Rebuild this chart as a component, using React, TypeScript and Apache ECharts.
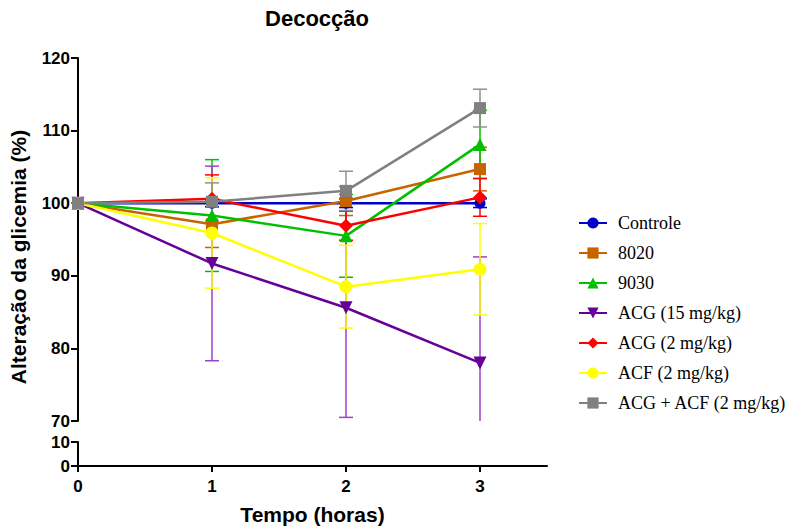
import React, { useEffect, useRef } from "react";
import * as echarts from "echarts";

const times = [0, 1, 2, 3];
const seriesNames = [
  "Controle",
  "8020",
  "9030",
  "ACG (15 mg/kg)",
  "ACG (2 mg/kg)",
  "ACF (2 mg/kg)",
  "ACG + ACF (2 mg/kg)",
];
const controleMean = [100, 100, 100, 100];
const controleSem = [0, 0.5, 0.6, 0.6];
const m8020Mean = [100, 97.1, 100.3, 104.7];
const m8020Sem = [0, 3.2, 2.0, 3.0];
const m9030Mean = [100, 98.3, 95.5, 108.1];
const m9030Sem = [0, 7.7, 5.7, 4.7];
const acg15Mean = [100, 91.7, 85.6, 78.0];
const acg15Sem = [0, 13.4, 15.1, 14.6];
const acg2Mean = [100, 100.6, 96.9, 100.8];
const acg2Sem = [0, 3.3, 2.0, 2.6];
const acfMean = [100, 95.9, 88.5, 90.9];
const acfSem = [0, 7.6, 5.7, 6.3];
const mixMean = [100, 100.2, 101.7, 113.1];
const mixSem = [0, 2.6, 2.7, 2.6];

const upperTicks = [70, 80, 90, 100, 110, 120];
const lowerTicks = [0, 10];
const xTicks = [0, 1, 2, 3];

const means = [controleMean, m8020Mean, m9030Mean, acg15Mean, acg2Mean, acfMean, mixMean];
const sems = [controleSem, m8020Sem, m9030Sem, acg15Sem, acg2Sem, acfSem, mixSem];
const lineColors = ["#0000c8", "#c86400", "#00c000", "#660099", "#ff0000", "#ffff00", "#808080"];
const errColors = ["#0000c8", "#c86400", "#00c000", "#a040c8", "#ff0000", "#ffff00", "#909090"];
const symbols = ["circle", "rect", "triangle", "triangle", "diamond", "circle", "rect"];
const symbolRot = [0, 0, 0, 180, 0, 0, 0];
const symbolSizes = [11, 12, 13, 13, 14, 13, 12];

const Y_MIN = 70;

export default function App() {
  const ref = useRef<HTMLDivElement>(null);
  useEffect(() => {
    document.body.style.margin = "0";
    const chart = echarts.init(ref.current!, null, { renderer: "svg" });
    const axisFont = { fontFamily: "Liberation Sans", fontWeight: "bold" as const, fontSize: 17, color: "#000" };
    const series: any[] = [];
    seriesNames.forEach((name, i) => {
      series.push({
        name: "err" + i,
        type: "custom",
        xAxisIndex: 0,
        yAxisIndex: 0,
        z: 1,
        silent: true,
        data: times.map((t, k) => [t, means[i][k], sems[i][k]]),
        renderItem: (params: any, api: any) => {
          const x = api.value(0);
          const m = api.value(1);
          const s = api.value(2);
          if (!s) return null;
          const hi = m + s;
          let lo = m - s;
          const clipped = lo < Y_MIN;
          if (clipped) lo = Y_MIN;
          const pHi = api.coord([x, hi]);
          const pLo = api.coord([x, lo]);
          const w = 7;
          const st = { stroke: errColors[i], lineWidth: 1.5 };
          const children: any[] = [
            { type: "line", shape: { x1: pHi[0], y1: pHi[1], x2: pLo[0], y2: pLo[1] }, style: st },
            { type: "line", shape: { x1: pHi[0] - w, y1: pHi[1], x2: pHi[0] + w, y2: pHi[1] }, style: st },
          ];
          if (!clipped) {
            children.push({ type: "line", shape: { x1: pLo[0] - w, y1: pLo[1], x2: pLo[0] + w, y2: pLo[1] }, style: st });
          }
          return { type: "group", children };
        },
      });
    });
    seriesNames.forEach((name, i) => {
      series.push({
        name,
        type: "line",
        xAxisIndex: 0,
        yAxisIndex: 0,
        z: 3,
        data: times.map((t, k) => [t, means[i][k]]),
        symbol: symbols[i],
        symbolRotate: symbolRot[i],
        symbolSize: symbolSizes[i],
        lineStyle: { color: lineColors[i], width: 2.5 },
        itemStyle: { color: lineColors[i] },
      });
    });

    chart.setOption({
      animation: false,
      title: {
        text: "Decocção",
        left: 312,
        top: 2,
        textAlign: "center",
        textStyle: { fontFamily: "Liberation Sans", fontWeight: "bold", fontSize: 22, color: "#000" },
      },
      legend: {
        orient: "vertical",
        left: 573,
        top: 209,
        itemWidth: 28,
        itemHeight: 14,
        itemGap: 12,
        data: seriesNames,
        textStyle: { fontFamily: "Liberation Serif", fontSize: 18, color: "#000", lineHeight: 18, padding: [0, 0, 0, 6] },
      },
      grid: [
        { left: 78, top: 58, width: 469, height: 363 },
        { left: 78, top: 442, width: 469, height: 24 },
      ],
      xAxis: [
        { type: "value", gridIndex: 0, min: 0, max: 3.5, show: false },
        {
          type: "value",
          gridIndex: 1,
          min: 0,
          max: 3.5,
          interval: 1,
          axisLine: { show: true, onZero: false, lineStyle: { color: "#000", width: 2 } },
          axisTick: { show: true, length: 6, customValues: xTicks, lineStyle: { color: "#000", width: 2 } },
          axisLabel: { ...axisFont, margin: 12, customValues: xTicks },
          splitLine: { show: false },
          name: "Tempo (horas)",
          nameLocation: "middle",
          nameGap: 38,
          nameTextStyle: { fontFamily: "Liberation Sans", fontWeight: "bold", fontSize: 21, color: "#000" },
        },
      ],
      yAxis: [
        {
          type: "value",
          gridIndex: 0,
          min: 70,
          max: 120,
          interval: 10,
          axisLine: { show: true, lineStyle: { color: "#000", width: 2 } },
          axisTick: { show: true, length: 7, customValues: upperTicks, lineStyle: { color: "#000", width: 2 } },
          axisLabel: { ...axisFont, margin: 8, customValues: upperTicks },
          splitLine: { show: false },
        },
        {
          type: "value",
          gridIndex: 1,
          min: 0,
          max: 10,
          interval: 10,
          axisLine: { show: true, lineStyle: { color: "#000", width: 2 } },
          axisTick: { show: true, length: 7, customValues: lowerTicks, lineStyle: { color: "#000", width: 2 } },
          axisLabel: { ...axisFont, margin: 8, customValues: lowerTicks },
          splitLine: { show: false },
        },
      ],
      graphic: [
        {
          type: "text",
          x: 18,
          y: 257,
          rotation: Math.PI / 2,
          style: {
            text: "Alteração da glicemia (%)",
            fontFamily: "Liberation Sans",
            fontWeight: "bold",
            fontSize: 21,
            fill: "#000",
            align: "center",
            verticalAlign: "middle",
          },
        },
      ],
      series,
    });
    return () => chart.dispose();
  }, []);
  return <div ref={ref} style={{ width: 788, height: 527 }} />;
}
